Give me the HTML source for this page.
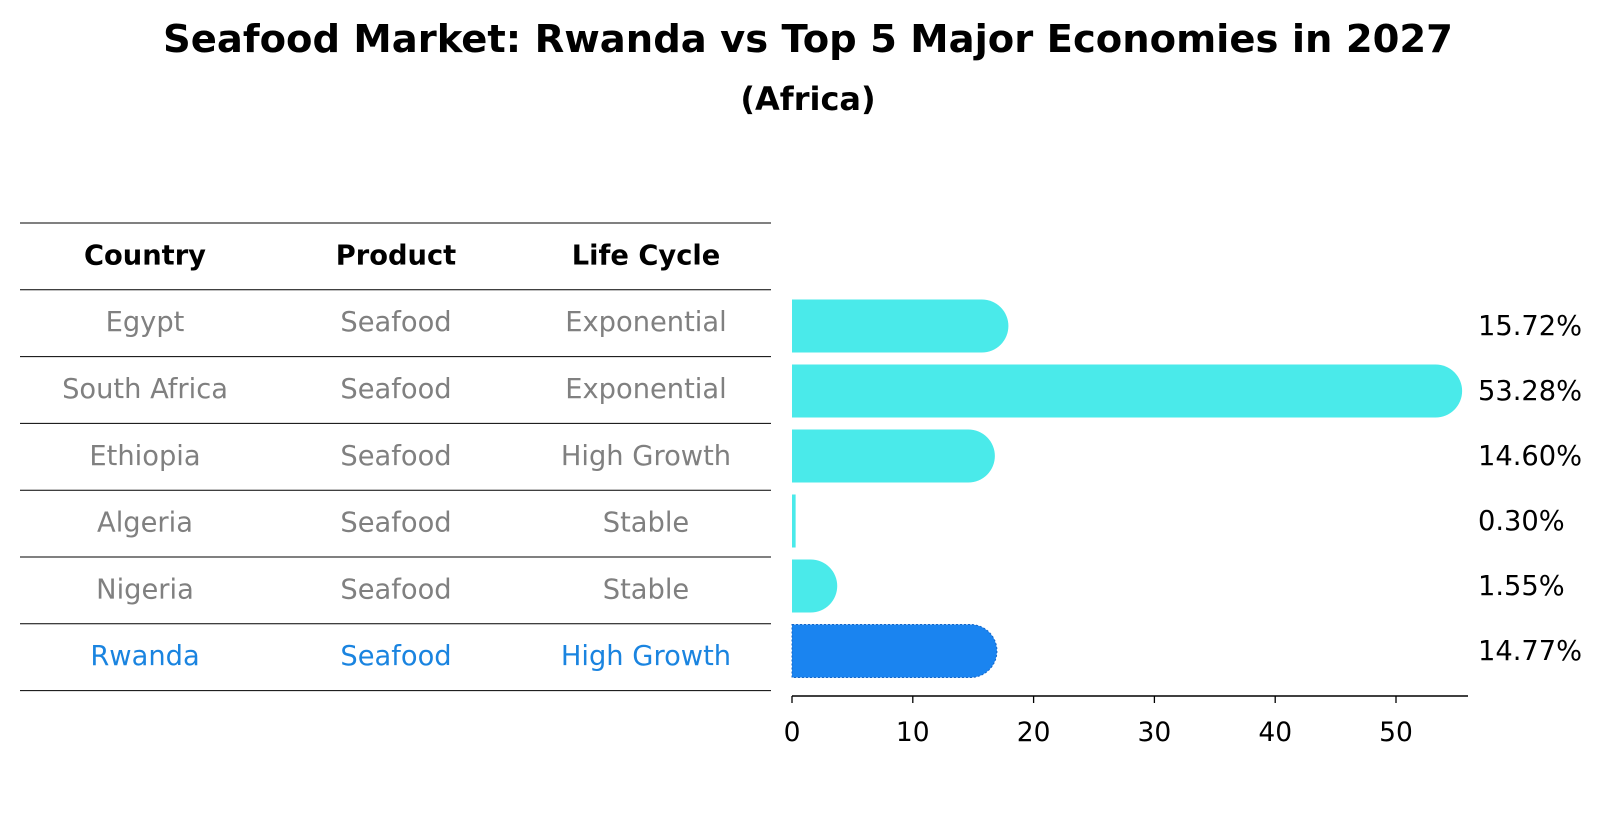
<!DOCTYPE html>
<html><head><meta charset="utf-8"><style>
body{margin:0;background:#fff;width:1604px;height:823px;overflow:hidden;font-family:"DejaVu Sans","Liberation Sans",sans-serif}
svg{display:block}
</style></head><body>
<svg id="c" width="1604" height="823">
<text x="808" y="52" text-anchor="middle" font-size="38.5" font-weight="bold">Seafood Market: Rwanda vs Top 5 Major Economies in 2027</text>
<text x="808" y="110" text-anchor="middle" font-size="32" font-weight="bold">(Africa)</text>
<g id="tbl"></g>
<g id="bars"></g>
</svg>
<script>
const countries=["Egypt","South Africa","Ethiopia","Algeria","Nigeria","Rwanda"];
const products=["Seafood","Seafood","Seafood","Seafood","Seafood","Seafood"];
const lifeCycles=["Exponential","Exponential","High Growth","Stable","Stable","High Growth"];
const values=[15.72,53.28,14.60,0.30,1.55,14.77];
const ticks=[0,10,20,30,40,50];
const NS="http://www.w3.org/2000/svg";
function mk(tag,attrs,parent){const e=document.createElementNS(NS,tag);for(const k in attrs)e.setAttribute(k,attrs[k]);parent.appendChild(e);return e;}
const tbl=document.getElementById('tbl'),bars=document.getElementById('bars');
const rowTop=223,rowH=66.8,colX=[145,396,646],FS=27.3;
for(let i=0;i<=countries.length+1;i++){
 const l=mk('line',{x1:20,x2:771,y1:rowTop+i*rowH,y2:rowTop+i*rowH,stroke:'#000','stroke-width':1},tbl);
 
 
}
["Country","Product","Life Cycle"].forEach((h,j)=>{
 const t=mk('text',{x:colX[j],y:rowTop+rowH/2+8,'text-anchor':'middle','font-size':FS,'font-weight':'bold'},tbl);
 t.textContent=h;
 
 
});
countries.forEach((c,i)=>{
 const col=i===countries.length-1?'#1a84e0':'#808080';
 [c,products[i],lifeCycles[i]].forEach((v,j)=>{
  const t=mk('text',{x:colX[j],y:rowTop+(i+1.5)*rowH+8,'text-anchor':'middle','font-size':FS,fill:col},tbl);
  t.textContent=v;
  
  
 });
});
const x0=792,pxPer=12.08;
const X=v=>x0+v*pxPer;
const barH=53,cy0=326,step=65;
values.forEach((v,i)=>{
 const cy=cy0+i*step,isR=i===values.length-1;
 const fill=isR?'#1a84f0':'#4aeaea';
 const w=X(v)-x0, r=v<1?0:barH/2;
 let d=`M${x0},${cy-barH/2} h${w} `+(r?`a${r},${r} 0 0 1 0,${barH} `:`v${barH} `)+`h${-w} Z`;
 const p=mk('path',{d:d,fill:fill},bars);
 if(isR){p.setAttribute('stroke','#1466c8');p.setAttribute('stroke-dasharray','2,2');p.setAttribute('stroke-width','1');}
 
 
 const t=mk('text',{x:1478,y:cy+9,'font-size':FS},bars);
 t.textContent=v.toFixed(2)+'%';
 
 
});
const ax=mk('line',{x1:x0,x2:1468,y1:696,y2:696,stroke:'#000','stroke-width':1.5},bars);


ticks.forEach(t=>{
 const tk=mk('line',{x1:X(t),x2:X(t),y1:696,y2:703,stroke:'#000','stroke-width':1.3},bars);
 
 
 const lb=mk('text',{x:X(t),y:741,'text-anchor':'middle','font-size':26.5},bars);
 lb.textContent=t;
 
 
});
</script>
</body></html>
